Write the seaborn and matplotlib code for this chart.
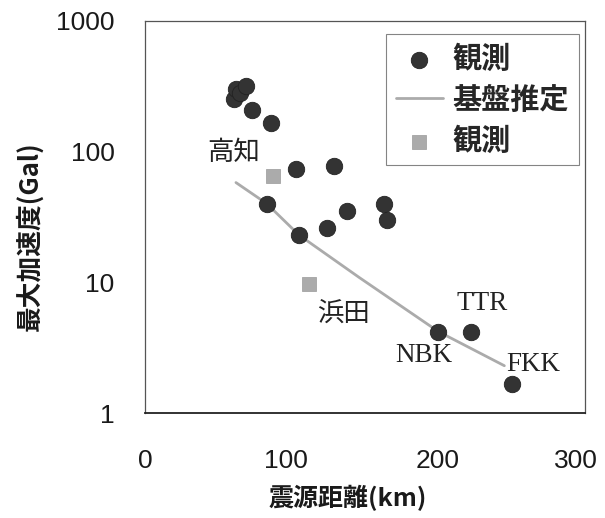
import pandas as pd
import seaborn as sns
import matplotlib.pyplot as plt
from matplotlib.transforms import ScaledTranslation

# 観測 (黒丸)
obs_dist = [61, 62, 65, 69, 73, 86, 83, 103, 105, 124, 129, 138, 163, 165, 200, 222, 250]
obs_pga = [254, 303, 282, 319, 209, 166, 40, 74, 23, 26, 78, 35, 40, 30, 4.15, 4.2, 1.66]

# 観測 (灰色四角: 高知, 浜田)
sq_dist = [87, 112]
sq_pga = [65.6, 9.7]

# 基盤推定
est_dist = [62, 83, 105, 146, 200, 245]
est_pga = [58, 40, 23, 10.9, 4.2, 2.3]

# 地点名
labels = ["高知", "浜田", "TTR", "NBK", "FKK"]
label_x = [60.5, 135, 230, 190, 265]
label_y = [98, 5.8, 6.9, 2.77, 2.37]

xticks = [0, 100, 200, 300]
yticks = [1, 10, 100, 1000]

sns.set_style("white")
plt.rcParams["font.family"] = ["Noto Sans CJK JP", "DejaVu Sans"]

obs = pd.DataFrame({"dist": obs_dist, "pga": obs_pga})
sq = pd.DataFrame({"dist": sq_dist, "pga": sq_pga})
est = pd.DataFrame({"dist": est_dist, "pga": est_pga})

fig = plt.figure(figsize=(6.05, 5.18), dpi=100)
ax = fig.add_axes([0.2397, 0.2027, 0.7273, 0.7568])

sns.lineplot(data=est, x="dist", y="pga", ax=ax, color="#ababab", linewidth=2.0,
             label="基盤推定", zorder=2)
sns.scatterplot(data=obs, x="dist", y="pga", ax=ax, marker="o", s=140,
                color="#333333", edgecolor="#222222", linewidth=0.6,
                label="観測", zorder=3)
sns.scatterplot(data=sq, x="dist", y="pga", ax=ax, marker="s", s=105,
                color="#ababab", edgecolor="#9a9a9a", linewidth=0.5,
                label="観測", zorder=3)

ax.set_yscale("log")
ax.set_xlim(0, 300)
ax.set_ylim(1, 1000)
ax.set_xticks(xticks)
ax.set_xticklabels([str(t) for t in xticks])
ax.set_yticks(yticks)
ax.set_yticklabels([str(t) for t in yticks])
ax.minorticks_off()
ax.tick_params(axis="both", direction="in", length=3, width=0.6, color="#777777",
               labelsize=19, labelcolor="#1a1a1a")
ax.tick_params(axis="x", pad=26)
ax.tick_params(axis="y", pad=22)
for lab in ax.get_xticklabels() + ax.get_yticklabels():
    lab.set_family(["Liberation Sans", "DejaVu Sans"])

# 元図の目盛ラベルの位置ずれ (px)
x_shift = [0, -6, -1, -9]
for lab, dx in zip(ax.get_xticklabels(), x_shift):
    lab.set_transform(lab.get_transform() + ScaledTranslation(dx / 100, 0, fig.dpi_scale_trans))

for sp in ax.spines.values():
    sp.set_color("#555555")
    sp.set_linewidth(0.9)
ax.spines["bottom"].set_color("#222222")
ax.spines["bottom"].set_linewidth(1.3)

ax.set_xlabel("震源距離(km)", fontsize=18, fontweight="bold", color="#1a1a1a")
ax.set_ylabel("最大加速度(Gal)", fontsize=18.5, fontweight="bold", color="#1a1a1a")
ax.xaxis.set_label_coords(0.461, -0.183)
ax.yaxis.set_label_coords(-0.23, 0.45)

for t, x, y in zip(labels, label_x, label_y):
    if t in ("高知", "浜田"):
        ax.text(x, y, t, fontsize=19, ha="center", va="center", color="#222222",
                family=["Noto Sans CJK JP", "DejaVu Sans"])
    else:
        ax.text(x, y, t, fontsize=19.5, ha="center", va="center", color="#222222",
                family=["Liberation Serif", "DejaVu Serif"])

# 凡例の順番: 観測(丸), 基盤推定, 観測(四角)
handles, leg_labels = ax.get_legend_handles_labels()
order = [1, 0, 2]
leg = ax.legend([handles[i] for i in order], [leg_labels[i] for i in order],
                loc="upper right", bbox_to_anchor=(0.986, 0.967),
                prop={"weight": "bold", "size": 21}, frameon=True, fancybox=False,
                edgecolor="#666666", handlelength=1.6, handletextpad=0.35,
                labelspacing=0.38, borderpad=0.33, borderaxespad=0, markerscale=1.0)
leg.get_frame().set_linewidth(0.8)

fig.savefig("out.png", dpi=100)
